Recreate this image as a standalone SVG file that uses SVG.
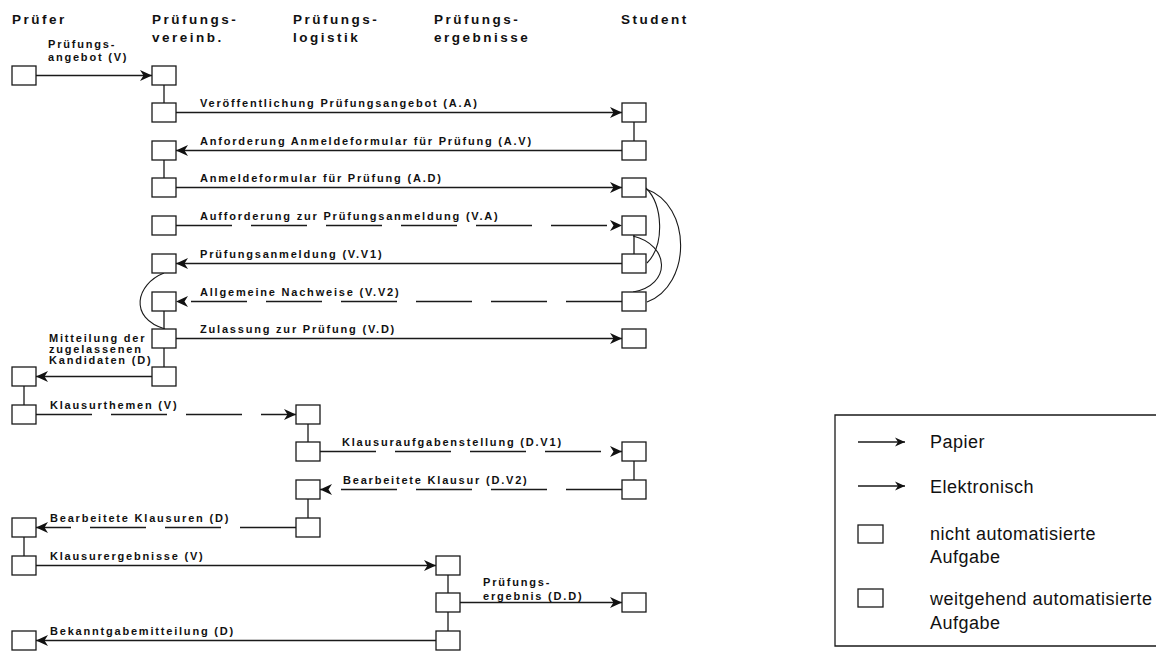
<svg xmlns="http://www.w3.org/2000/svg" width="1156" height="651" viewBox="0 0 1156 651">
<style>
.box{fill:#fff;stroke:#1a1a1a;stroke-width:1.3}
.ln{fill:none;stroke:#1a1a1a;stroke-width:1.3}
.arr{marker-end:url(#ah)}
.dash{stroke-dasharray:56 19}
.cv{fill:none;stroke:#1a1a1a;stroke-width:1.1}
.lbl{font-family:"Liberation Sans",Arial,sans-serif;font-weight:bold;font-size:11px;letter-spacing:1.8px;fill:#111}
.hdr{font-family:"Liberation Sans",Arial,sans-serif;font-weight:bold;font-size:13.5px;letter-spacing:2.5px;fill:#111}
.leg{font-family:"Liberation Sans",Arial,sans-serif;font-size:18px;letter-spacing:0.5px;fill:#111}
</style>
<defs>
<marker id="ah" markerUnits="userSpaceOnUse" markerWidth="13" markerHeight="12" refX="12" refY="6" orient="auto">
<path d="M0,0.5 L12,6 L0,11.5 L3.5,6 Z" fill="#111"/>
</marker>
<marker id="ahs" markerUnits="userSpaceOnUse" markerWidth="11" markerHeight="10" refX="10" refY="5" orient="auto">
<path d="M0,0.5 L10,5 L0,9.5 L3,5 Z" fill="#111"/>
</marker>
</defs>
<rect width="1156" height="651" fill="#fff"/>

<g id="headers">
<text class="hdr" x="12" y="24">Prüfer</text>
<text class="hdr" x="152" y="24">Prüfungs-</text>
<text class="hdr" x="152" y="42">vereinb.</text>
<text class="hdr" x="293" y="24">Prüfungs-</text>
<text class="hdr" x="293" y="42">logistik</text>
<text class="hdr" x="434" y="24">Prüfungs-</text>
<text class="hdr" x="434" y="42">ergebnisse</text>
<text class="hdr" x="621" y="24">Student</text>
</g>

<g id="connectors">
<path class="ln arr" d="M36,75.5 H152"/>
<path class="ln arr" d="M176,112.5 H622"/>
<path class="ln arr" d="M622,150.5 H176"/>
<path class="ln arr" d="M176,187.5 H622"/>
<path class="ln arr dash" d="M176,225.5 H622"/>
<path class="ln arr" d="M622,263.5 H176"/>
<path class="ln arr dash" d="M622,301.5 H176"/>
<path class="ln arr" d="M176,338.5 H622"/>
<path class="ln arr" d="M152,376.5 H36"/>
<path class="ln arr dash" d="M36,414.5 H296"/>
<path class="ln arr dash" d="M320,451.5 H622"/>
<path class="ln arr dash" d="M622,489.5 H320"/>
<path class="ln arr dash" d="M296,527.5 H36"/>
<path class="ln arr" d="M36,565.5 H436"/>
<path class="ln arr" d="M460,602.5 H622"/>
<path class="ln arr" d="M436,640.5 H36"/>
<path class="ln" d="M164,85 V103 M634,122 V141 M164,160 V178 M634,235 V254 M164,311 V329 M164,348 V367 M24,386 V405 M308,424 V442 M634,461 V480 M308,499 V518 M24,537 V556 M448,575 V593 M448,612 V631"/>
<path class="cv" d="M164,273 C136,284 128,318 165,329"/>
<path class="cv" d="M646,188 C663,205 665,245 647,263"/>
<path class="cv" d="M646,189 C692,205 692,285 647,302"/>
<path class="cv" d="M633,236 C670,245 672,285 633,292"/>
<text class="lbl" x="48" y="48">Prüfungs-</text>
<text class="lbl" x="48" y="61">angebot (V)</text>
<text class="lbl" x="200" y="107">Veröffentlichung Prüfungsangebot (A.A)</text>
<text class="lbl" x="200" y="145">Anforderung Anmeldeformular für Prüfung (A.V)</text>
<text class="lbl" x="200" y="182">Anmeldeformular für Prüfung (A.D)</text>
<text class="lbl" x="200" y="220">Aufforderung zur Prüfungsanmeldung (V.A)</text>
<text class="lbl" x="200" y="258">Prüfungsanmeldung (V.V1)</text>
<text class="lbl" x="200" y="296">Allgemeine Nachweise (V.V2)</text>
<text class="lbl" x="200" y="333">Zulassung zur Prüfung (V.D)</text>
<text class="lbl" x="49" y="341.5">Mitteilung der</text>
<text class="lbl" x="49" y="352.5">zugelassenen</text>
<text class="lbl" x="49" y="363.5">Kandidaten (D)</text>
<text class="lbl" x="50" y="409">Klausurthemen (V)</text>
<text class="lbl" x="342" y="446">Klausuraufgabenstellung (D.V1)</text>
<text class="lbl" x="343" y="484">Bearbeitete Klausur (D.V2)</text>
<text class="lbl" x="50" y="522">Bearbeitete Klausuren (D)</text>
<text class="lbl" x="50" y="560">Klausurergebnisse (V)</text>
<text class="lbl" x="483" y="586">Prüfungs-</text>
<text class="lbl" x="483" y="600">ergebnis (D.D)</text>
<text class="lbl" x="50" y="635">Bekanntgabemitteilung (D)</text>
</g>

<g id="P0"><rect class="box" x="12" y="66" width="24" height="19"/></g>
<g id="V0"><rect class="box" x="152" y="66" width="24" height="19"/></g>
<g id="V1"><rect class="box" x="152" y="103" width="24" height="19"/></g>
<g id="S1"><rect class="box" x="622" y="103" width="24" height="19"/></g>
<g id="V2"><rect class="box" x="152" y="141" width="24" height="19"/></g>
<g id="S2"><rect class="box" x="622" y="141" width="24" height="19"/></g>
<g id="V3"><rect class="box" x="152" y="178" width="24" height="19"/></g>
<g id="S3"><rect class="box" x="622" y="178" width="24" height="19"/></g>
<g id="V4"><rect class="box" x="152" y="216" width="24" height="19"/></g>
<g id="S4"><rect class="box" x="622" y="216" width="24" height="19"/></g>
<g id="V5"><rect class="box" x="152" y="254" width="24" height="19"/></g>
<g id="S5"><rect class="box" x="622" y="254" width="24" height="19"/></g>
<g id="V6"><rect class="box" x="152" y="292" width="24" height="19"/></g>
<g id="S6"><rect class="box" x="622" y="292" width="24" height="19"/></g>
<g id="V7"><rect class="box" x="152" y="329" width="24" height="19"/></g>
<g id="S7"><rect class="box" x="622" y="329" width="24" height="19"/></g>
<g id="P8"><rect class="box" x="12" y="367" width="24" height="19"/></g>
<g id="V8"><rect class="box" x="152" y="367" width="24" height="19"/></g>
<g id="P9"><rect class="box" x="12" y="405" width="24" height="19"/></g>
<g id="L9"><rect class="box" x="296" y="405" width="24" height="19"/></g>
<g id="L10"><rect class="box" x="296" y="442" width="24" height="19"/></g>
<g id="S10"><rect class="box" x="622" y="442" width="24" height="19"/></g>
<g id="L11"><rect class="box" x="296" y="480" width="24" height="19"/></g>
<g id="S11"><rect class="box" x="622" y="480" width="24" height="19"/></g>
<g id="P12"><rect class="box" x="12" y="518" width="24" height="19"/></g>
<g id="L12"><rect class="box" x="296" y="518" width="24" height="19"/></g>
<g id="P13"><rect class="box" x="12" y="556" width="24" height="19"/></g>
<g id="E13"><rect class="box" x="436" y="556" width="24" height="19"/></g>
<g id="E14"><rect class="box" x="436" y="593" width="24" height="19"/></g>
<g id="S14"><rect class="box" x="622" y="593" width="24" height="19"/></g>
<g id="P15"><rect class="box" x="12" y="631" width="24" height="19"/></g>
<g id="E15"><rect class="box" x="436" y="631" width="24" height="19"/></g>

<g id="legend">
<path class="ln" d="M1156,415 H835 V646 H1156"/>
<path class="ln" d="M858,442 H905" marker-end="url(#ahs)"/>
<text class="leg" x="930" y="448">Papier</text>
<path class="ln" d="M858,486 H905" marker-end="url(#ahs)"/>
<text class="leg" x="930" y="493">Elektronisch</text>
<rect class="box" x="858" y="525" width="25" height="18"/>
<text class="leg" x="930" y="540">nicht automatisierte</text>
<text class="leg" x="930" y="563">Aufgabe</text>
<rect class="box" x="858" y="589" width="25" height="18"/>
<text class="leg" x="930" y="605">weitgehend automatisierte</text>
<text class="leg" x="930" y="629">Aufgabe</text>
</g>
</svg>
